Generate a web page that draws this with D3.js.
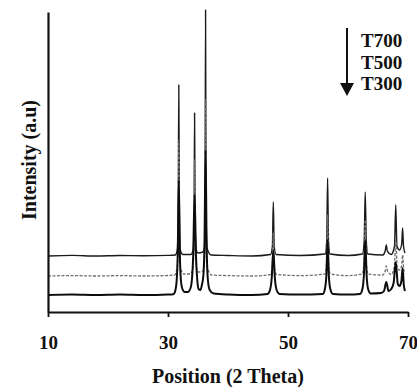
<!DOCTYPE html>
<html>
<head>
<meta charset="utf-8">
<script src="https://cdn.jsdelivr.net/npm/d3@7"></script>
<style>
  html, body { margin: 0; padding: 0; background: #fff; }
  svg { display: block; }
  text { font-family: "Liberation Serif", "Times New Roman", serif; font-weight: bold; fill: #111; }
</style>
</head>
<body>
<svg id="chart" width="417" height="387"></svg>
<script>
// XRD patterns of samples annealed at 300, 500 and 700 degrees, stacked with offsets.
const seriesNames = ["T700", "T500", "T300"];
const seriesOffsets = [560, 360, 170];          // vertical stacking, a.u.
const xTicks = [10, 30, 50, 70];

// [2-theta, intensity above the trace background] vertices
const t700 = [
  [10, 0], [14, 6], [18, 0], [22, 5], [26, 2], [30, 6], [31.2, 10], [31.55, 60], [31.7, 400],
  [31.8, 1710], [31.9, 400], [32.05, 60], [32.5, 15], [33.8, 15], [34.2, 60], [34.35, 350],
  [34.43, 1430], [34.52, 350], [34.7, 60], [35.0, 30], [35.8, 40], [36.08, 90], [36.18, 500],
  [36.26, 2460], [36.34, 500], [36.5, 80], [37.2, 10], [40, 5], [44, 0], [47.1, 15],
  [47.4, 100], [47.55, 540], [47.7, 100], [48, 15], [52, 5], [56.2, 20], [56.45, 150],
  [56.6, 780], [56.75, 150], [57, 20], [60, 5], [62.4, 20], [62.7, 150], [62.87, 640],
  [63.05, 150], [63.3, 20], [65.8, 10], [66.2, 50], [66.38, 110], [66.55, 50], [67.2, 15],
  [67.75, 100], [67.96, 510], [68.15, 100], [68.6, 60], [68.95, 120], [69.1, 280],
  [69.25, 100], [69.5, 30]
];
const t500 = [
  [10, 0], [14, 4], [18, 0], [22, 4], [26, 0], [30, 5], [31.1, 10], [31.5, 80], [31.68, 350],
  [31.8, 1360], [31.92, 350], [32.1, 80], [32.6, 20], [33.7, 20], [34.15, 80], [34.32, 300],
  [34.43, 1160], [34.54, 300], [34.75, 80], [35.1, 40], [35.8, 50], [36.05, 110], [36.16, 450],
  [36.26, 1760], [36.36, 450], [36.55, 90], [37.3, 10], [40, 4], [44, 0], [47.05, 15],
  [47.38, 90], [47.55, 440], [47.72, 90], [48.1, 15], [52, 4], [56.15, 20], [56.43, 130],
  [56.6, 610], [56.77, 130], [57.05, 20], [60, 4], [62.35, 20], [62.68, 130], [62.87, 560],
  [63.06, 130], [63.35, 20], [65.8, 10], [66.2, 50], [66.38, 100], [66.58, 50], [67.2, 15],
  [67.72, 90], [67.96, 360], [68.2, 90], [68.6, 60], [68.93, 100], [69.1, 210], [69.27, 80],
  [69.5, 25]
];
const t300 = [
  [10, 0], [14, 5], [18, 0], [22, 5], [26, 0], [30, 5], [30.9, 8], [31.2, 40], [31.45, 150],
  [31.62, 400], [31.8, 1150], [31.98, 400], [32.15, 150], [32.4, 60], [32.8, 30], [33.3, 30],
  [33.7, 60], [33.98, 150], [34.2, 400], [34.43, 1000], [34.66, 400], [34.88, 150], [35.1, 60],
  [35.4, 50], [35.65, 100], [35.9, 200], [36.08, 500], [36.26, 1450], [36.44, 500],
  [36.65, 150], [36.95, 50], [37.6, 15], [40, 5], [44, 0], [46.6, 10], [47.0, 50],
  [47.3, 180], [47.55, 450], [47.8, 180], [48.1, 50], [48.6, 10], [52, 5], [55.8, 10],
  [56.15, 60], [56.4, 200], [56.6, 550], [56.8, 200], [57.05, 60], [57.5, 10], [60, 5],
  [62.0, 10], [62.4, 60], [62.65, 200], [62.87, 550], [63.1, 200], [63.35, 60], [63.8, 15],
  [65.5, 20], [66.0, 40], [66.38, 130], [66.75, 40], [67.2, 60], [67.6, 120], [67.96, 330],
  [68.3, 110], [68.6, 90], [68.9, 140], [69.1, 270], [69.3, 100], [69.5, 40]
];
const seriesData = [t700, t500, t300];
const seriesStyle = [
  { stroke: "#1a1a1a", width: 1.4, dash: null },
  { stroke: "#707070", width: 1.3, dash: "3,1.5" },
  { stroke: "#0d0d0d", width: 2.0, dash: null }
];

const svg = d3.select("#chart");
const x = d3.scaleLinear().domain([10, 70]).range([48, 408]);
const y = d3.scaleLinear().domain([0, 3000]).range([312, 12]);

// traces
const line = d3.line()
  .x(d => x(d[0]))
  .y(d => y(d[1]))
  .curve(d3.curveMonotoneX);

svg.append("g").selectAll("path")
  .data(seriesData.map((pts, i) => pts.map(p => [p[0], p[1] + seriesOffsets[i]])))
  .join("path")
  .attr("fill", "none")
  .attr("stroke", (d, i) => seriesStyle[i].stroke)
  .attr("stroke-width", (d, i) => seriesStyle[i].width)
  .attr("stroke-dasharray", (d, i) => seriesStyle[i].dash)
  .attr("stroke-linejoin", "round")
  .attr("d", line);

// x axis
const xAxis = svg.append("g")
  .attr("transform", `translate(0,${y(0)})`)
  .call(d3.axisBottom(x).tickValues(xTicks).tickSize(5).tickSizeOuter(0).tickPadding(19));
xAxis.select(".domain").attr("stroke", "#111").attr("stroke-width", 2.2);
xAxis.selectAll(".tick line").attr("stroke", "#111").attr("stroke-width", 1.8);
xAxis.selectAll(".tick text")
  .attr("font-family", "Liberation Serif, serif")
  .attr("font-weight", "bold")
  .attr("font-size", 19)
  .attr("fill", "#111");

// y axis: plain line, no ticks
const yAxis = svg.append("g")
  .attr("transform", `translate(${x(10)},0)`)
  .call(d3.axisLeft(y).tickValues([]).tickSizeOuter(0));
yAxis.select(".domain").attr("stroke", "#111").attr("stroke-width", 2.2);

// axis titles
svg.append("text")
  .attr("x", 228).attr("y", 383)
  .attr("text-anchor", "middle")
  .attr("font-size", 20)
  .text("Position (2 Theta)");

svg.append("text")
  .attr("transform", "translate(36,160) rotate(-90)")
  .attr("text-anchor", "middle")
  .attr("font-size", 20)
  .text("Intensity (a.u)");

// legend: arrow pointing from the top trace to the bottom one
const legend = svg.append("g");
legend.append("line")
  .attr("x1", 347).attr("x2", 347).attr("y1", 28).attr("y2", 86)
  .attr("stroke", "#111").attr("stroke-width", 2);
legend.append("path")
  .attr("d", "M340,83 L354,83 L347,96 Z")
  .attr("fill", "#111");
legend.selectAll("text.lg")
  .data(seriesNames)
  .join("text")
  .attr("class", "lg")
  .attr("x", 361)
  .attr("y", (d, i) => 47 + i * 21.5)
  .attr("font-size", 19)
  .text(d => d);
</script>
</body>
</html>
